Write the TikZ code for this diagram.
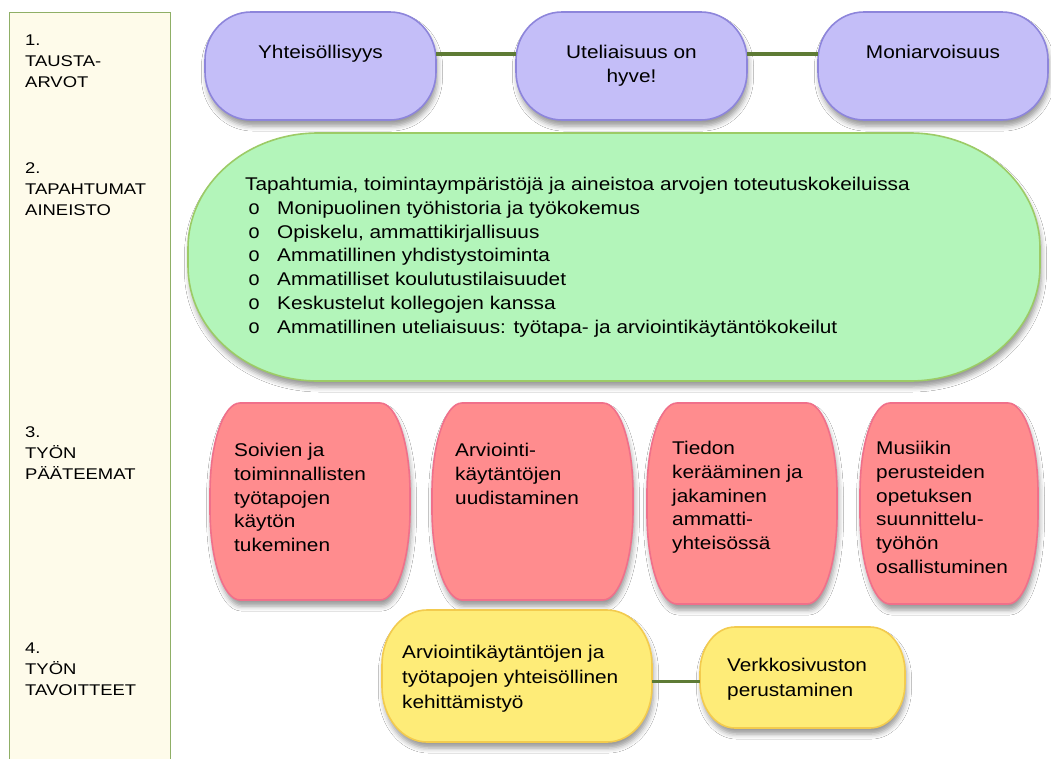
\documentclass[tikz,border=0pt]{standalone}
\usepackage{fontspec}
\setmainfont{Liberation Sans}[FakeStretch=1.13]
\newfontfamily\bulfont{Liberation Mono}
\usetikzlibrary{shadows.blur}
\definecolor{pfill}{HTML}{C4BEF8}
\definecolor{pline}{HTML}{8D85DB}
\definecolor{gfill}{HTML}{B3F5BA}
\definecolor{gline}{HTML}{9CCB66}
\definecolor{rfill}{HTML}{FF8C8E}
\definecolor{rline}{HTML}{F0708A}
\definecolor{yfill}{HTML}{FEEC78}
\definecolor{yline}{HTML}{F3CB4E}
\definecolor{panelfill}{HTML}{FEFBEA}
\definecolor{panelline}{HTML}{8FAF66}
\definecolor{connc}{HTML}{5E7B35}
\newcommand\ebox[8]{%
  \path[#1] (#3+#7,-#4) -- (#5-#7,-#4)
    arc[start angle=90,end angle=0,x radius=#7,y radius=#8] -- (#5,-#6+#8)
    arc[start angle=0,end angle=-90,x radius=#7,y radius=#8] -- (#3+#7,-#6)
    arc[start angle=270,end angle=180,x radius=#7,y radius=#8] -- (#3,-#4-#8)
    arc[start angle=180,end angle=90,x radius=#7,y radius=#8] -- cycle;
  \node[inner sep=0pt, minimum width=#5-#3, minimum height=#6-#4] (#2) at ({(#3+#5)/2},{-(#4+#6)/2}) {};
}
\newcommand\bul{\makebox[29pt][l]{\bulfont\fontsize{20}{20}\selectfont o}}
\tikzset{
  shad/.style={blur shadow={shadow xshift=1.5pt, shadow yshift=-6pt, shadow blur radius=5pt, shadow opacity=40}},
  purplebox/.style={fill=pfill, draw=pline, line width=1.6pt, shad},
  greenbox/.style={fill=gfill, draw=gline, line width=1.6pt, shad},
  redbox/.style={fill=rfill, draw=rline, line width=1.6pt, shad},
  yellowbox/.style={fill=yfill, draw=yline, line width=1.6pt, shad},
  panel/.style={fill=panelfill, draw=panelline, line width=1.4pt},
  conn/.style={draw=connc, line width=3.5pt},
  txt/.style={inner sep=0pt, anchor=base west, font=\fontsize{18.4}{23.7}\selectfont},
  ctxt/.style={inner sep=0pt, anchor=base, font=\fontsize{18.4}{24}\selectfont},
  lbl/.style={inner sep=0pt, anchor=base west, font=\fontsize{15.5}{21}\selectfont\addfontfeature{FakeStretch=1.19}},
}
\begin{document}
\begin{tikzpicture}[x=1pt,y=1pt]
\useasboundingbox (0,0) rectangle (1051,-758);
\clip (0,0) rectangle (1051,-758);
\fill[white] (0,0) rectangle (1051,-758);
% left panel
\path[panel] (9.5,-12.5) rectangle (170.5,-775);
\node[lbl] (l1) at (25,-45.5) {\parbox[t]{140pt}{1.\\TAUSTA-\\ARVOT}};
\node[lbl] (l2) at (25,-173.5) {\parbox[t]{140pt}{2.\\TAPAHTUMAT\\AINEISTO}};
\node[lbl] (l3) at (25,-437.5) {\parbox[t]{140pt}{3.\\TYÖN\\PÄÄTEEMAT}};
\node[lbl] (l4) at (25,-653.5) {\parbox[t]{140pt}{4.\\TYÖN\\TAVOITTEET}};
% row 1
\ebox{purplebox}{v1}{205}{12}{436}{120}{46}{48}
\ebox{purplebox}{v2}{516}{12}{747}{120}{46}{48}
\ebox{purplebox}{v3}{818}{12}{1048}{120}{46}{48}
\node[ctxt] (v1t) at (320.5,-58.6) {\parbox[t]{200pt}{\centering Yhteisöllisyys}};
\node[ctxt] (v2t) at (631.5,-58.6) {\parbox[t]{200pt}{\centering Uteliaisuus on\\hyve!}};
\node[ctxt] (v3t) at (933,-58.6) {\parbox[t]{200pt}{\centering Moniarvoisuus}};
\draw[conn] ([yshift=12pt]v1.east) -- ([yshift=12pt]v2.west);
\draw[conn] ([yshift=12pt]v2.east) -- ([yshift=12pt]v3.west);
% row 2
\ebox{greenbox}{g}{188}{133}{1040}{381}{130}{115}
\node[txt] (gt) at (245,-190.8) {\parbox[t]{780pt}{\raggedright
Tapahtumia, toimintaympäristöjä ja aineistoa arvojen toteutuskokeiluissa\\
\hspace*{3pt}\bul Monipuolinen työhistoria ja työkokemus\\
\hspace*{3pt}\bul Opiskelu, ammattikirjallisuus\\
\hspace*{3pt}\bul Ammatillinen yhdistystoiminta\\
\hspace*{3pt}\bul Ammatilliset koulutustilaisuudet\\
\hspace*{3pt}\bul Keskustelut kollegojen kanssa\\
\hspace*{3pt}\bul Ammatillinen uteliaisuus: työtapa- ja arviointikäytäntökokeilut}};
% row 3
\ebox{redbox}{r1}{210}{403}{410}{600}{30}{90}
\ebox{redbox}{r2}{432}{403}{633}{600}{30}{90}
\ebox{redbox}{r3}{647}{403}{837}{604}{30}{90}
\ebox{redbox}{r4}{860}{403}{1038}{604}{30}{90}
\node[txt] (r1t) at (234,-456.6) {\parbox[t]{300pt}{\raggedright Soivien ja\\toiminnallisten\\työtapojen\\käytön\\tukeminen}};
\node[txt] (r2t) at (455,-456.6) {\parbox[t]{300pt}{\raggedright Arviointi-\\käytäntöjen\\uudistaminen}};
\node[txt] (r3t) at (672,-454.6) {\parbox[t]{300pt}{\raggedright Tiedon\\kerääminen ja\\jakaminen\\ammatti-\\yhteisössä}};
\node[txt] (r4t) at (876,-454.6) {\parbox[t]{300pt}{\raggedright Musiikin\\perusteiden\\opetuksen\\suunnittelu-\\työhön\\osallistuminen}};
% row 4
\ebox{yellowbox}{y1}{382}{610}{652}{742}{45}{55}
\ebox{yellowbox}{y2}{700}{627}{905}{728}{35}{45}
\node[txt, font=\fontsize{18.4}{25}\selectfont] (y1t) at (402,-658.6) {\parbox[t]{300pt}{\raggedright Arviointikäytäntöjen ja\\työtapojen yhteisöllinen\\kehittämistyö}};
\node[txt, font=\fontsize{18.4}{25}\selectfont] (y2t) at (727,-671.6) {\parbox[t]{300pt}{\raggedright Verkkosivuston\\perustaminen}};
\draw[conn] ([yshift=-5.7pt]y1.east) -- ([yshift=-4.2pt]y2.west);
\end{tikzpicture}
\end{document}
